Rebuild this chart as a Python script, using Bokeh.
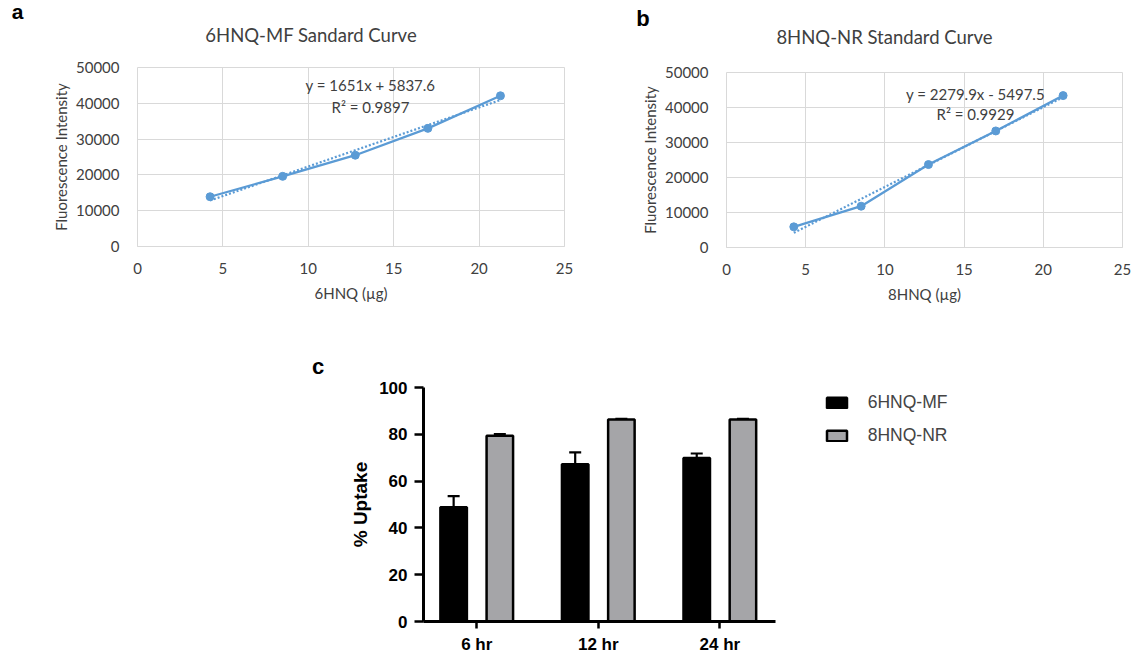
import numpy as np
from bokeh.plotting import figure
from bokeh.models import (Range1d, Whisker, ColumnDataSource, FixedTicker,
                          Legend, LegendItem, TeeHead, Label, Spacer)
from bokeh.layouts import column, row
from bokeh.transform import dodge
from bokeh.embed import file_html
from bokeh.resources import INLINE

# ---------------- data ----------------
mf_dose = [4.25, 8.5, 12.75, 17.0, 21.25]
mf_fluor = [13900, 19600, 25500, 33000, 42100]
mf_slope, mf_icpt, mf_r2 = 1651.0, 5837.6, 0.9897

nr_dose = [4.25, 8.5, 12.75, 17.0, 21.25]
nr_fluor = [5900, 11800, 23700, 33300, 43400]
nr_slope, nr_icpt, nr_r2 = 2279.9, -5497.5, 0.9929

x_ticks_std = [0, 5, 10, 15, 20, 25]
y_ticks_std = [0, 10000, 20000, 30000, 40000, 50000]

times = ["6 hr", "12 hr", "24 hr"]
uptake_mf = [48.8, 67.2, 69.9]
uptake_mf_err = [4.8, 5.1, 1.9]
uptake_nr = [79.4, 86.3, 86.3]
uptake_nr_err = [0.7, 0.3, 0.3]
y_ticks_uptake = [0, 20, 40, 60, 80, 100]

BLUE = "#5b9bd5"
GRID = "#d9d9d9"
TXT = "#404040"
FONT = "Lato"
ARIAL = "Liberation Sans"


def fmt_eq(m, b):
    sign = "+" if b >= 0 else "-"
    return f"y = {m:g}x {sign} {abs(b):g}"


def top_label(p, text, x, y, font, size, style, color):
    p.add_layout(Label(x=x, y=y, x_units="screen", y_units="screen", text=text,
                       text_align="center", text_baseline="alphabetic",
                       text_font=font, text_font_size=size, text_font_style=style,
                       text_color=color), "above")


def std_curve(dose, fluor, slope, icpt, r2, title, xlabel, letter,
              W, H, borders, title_pos, letter_pos, eq_pos, letter_size="22px"):
    L, R, T, B = borders
    p = figure(width=W, height=H, output_backend="svg", toolbar_location=None,
               x_range=Range1d(0, 25), y_range=Range1d(0, 50000),
               min_border_left=L, min_border_right=R,
               min_border_top=T, min_border_bottom=B)
    p.outline_line_color = GRID
    p.xgrid.grid_line_color = GRID
    p.ygrid.grid_line_color = GRID
    p.xaxis.ticker = FixedTicker(ticks=x_ticks_std)
    p.yaxis.ticker = FixedTicker(ticks=y_ticks_std)
    for ax in (p.xaxis[0], p.yaxis[0]):
        ax.major_tick_line_color = None
        ax.minor_tick_line_color = None
        ax.major_tick_out = 0
        ax.major_tick_in = 0
        ax.major_label_text_font = FONT
        ax.major_label_text_font_size = "15px"
        ax.major_label_text_color = TXT
        ax.axis_label_text_font = FONT
        ax.axis_label_text_font_size = "15px"
        ax.axis_label_text_font_style = "normal"
        ax.axis_label_text_color = TXT
    p.xaxis.axis_line_color = GRID
    p.yaxis.axis_line_color = None
    p.yaxis.major_label_standoff = 18
    p.yaxis.axis_label_standoff = 3
    p.xaxis.major_label_standoff = 16
    p.xaxis.axis_label_standoff = 7
    p.xaxis.axis_label = xlabel
    p.yaxis.axis_label = "Fluorescence Intensity"

    src = ColumnDataSource(dict(x=dose, y=fluor))
    p.line("x", "y", source=src, line_color=BLUE, line_width=2.3)
    xs = np.array([min(dose), max(dose)])
    p.line(xs, slope * xs + icpt, line_color=BLUE, line_width=2.2,
           line_dash="2 2")
    p.scatter("x", "y", source=src, size=8, fill_color=BLUE, line_color=BLUE)

    # trendline equation inside the plot area
    p.add_layout(Label(x=eq_pos[0], y=eq_pos[1], x_units="screen", y_units="screen",
                       text=fmt_eq(slope, icpt), text_align="center", text_baseline="middle",
                       text_font=FONT, text_font_size="15px", text_color=TXT))
    p.add_layout(Label(x=eq_pos[0], y=eq_pos[2], x_units="screen", y_units="screen",
                       text=f"R\u00b2 = {r2:.4f}", text_align="center", text_baseline="middle",
                       text_font=FONT, text_font_size="15px", text_color=TXT))

    # chart title (inner) and panel letter (outer) above the plot area
    top_label(p, title, title_pos[0], title_pos[1], FONT, "18.5px", "normal", TXT)
    top_label(p, letter, letter_pos[0], letter_pos[1], ARIAL, letter_size, "bold", "black")
    return p


pa = std_curve(mf_dose, mf_fluor, mf_slope, mf_icpt, mf_r2,
               "6HNQ-MF Sandard Curve", "6HNQ (\u00b5g)", "a",
               575, 330, (137, 11, 67, 84),
               (173.7, 32.5), (-120, 34.0), (233, 161.5, 139.3), letter_size="21px")
pb = std_curve(nr_dose, nr_fluor, nr_slope, nr_icpt, nr_r2,
               "8HNQ-NR Standard Curve", "8HNQ (\u00b5g)", "b",
               559, 326, (151, 12, 68, 83),
               (158, 35.7), (-83.5, 32.5), (249, 153.7, 133.7))

# ---------------- panel c ----------------
X0, X1 = 0.562, 3.458          # extent of the drawn x axis
C_LEFT, C_AXIS_RIGHT, C_RIGHT = 423, 775, 10
px_per_unit = (C_AXIS_RIGHT - C_LEFT) / (X1 - X0)
x_end = X0 + (1134 - C_RIGHT - C_LEFT) / px_per_unit

pc = figure(width=1134, height=326, output_backend="svg", toolbar_location=None,
            x_range=Range1d(X0, x_end), y_range=Range1d(0, 100),
            min_border_left=C_LEFT, min_border_right=C_RIGHT,
            min_border_top=57, min_border_bottom=34)
pc.outline_line_color = None
pc.grid.grid_line_color = None

idx = list(range(1, len(times) + 1))
csrc = ColumnDataSource(dict(
    x=idx,
    mf=uptake_mf, mf_up=[v + e for v, e in zip(uptake_mf, uptake_mf_err)],
    nr=uptake_nr, nr_up=[v + e for v, e in zip(uptake_nr, uptake_nr_err)],
))
OFF = 0.19
BW = 0.218
r_mf = pc.vbar(x=dodge("x", -OFF), top="mf", width=BW, source=csrc,
               fill_color="black", line_color="black", line_width=2.5)
r_nr = pc.vbar(x=dodge("x", OFF), top="nr", width=BW, source=csrc,
               fill_color="#a5a5a8", line_color="black", line_width=2.5)
for off, lo, up in ((-OFF, "mf", "mf_up"), (OFF, "nr", "nr_up")):
    pc.add_layout(Whisker(base=dodge("x", off), lower=lo, upper=up, source=csrc,
                          line_width=2.2, line_color="black", lower_head=None,
                          upper_head=TeeHead(size=12, line_width=2.2, line_color="black")))

pc.xaxis.ticker = FixedTicker(ticks=idx)
pc.xaxis.major_label_overrides = {i: t for i, t in zip(idx, times)}
pc.xaxis.bounds = (X0, X1)
pc.yaxis.ticker = FixedTicker(ticks=y_ticks_uptake)
for ax in (pc.xaxis[0], pc.yaxis[0]):
    ax.axis_line_width = 3
    ax.axis_line_color = "black"
    ax.major_tick_line_width = 2.5
    ax.major_tick_line_color = "black"
    ax.minor_tick_line_color = None
    ax.major_tick_in = 0
    ax.major_label_text_font = ARIAL
    ax.major_label_text_font_style = "bold"
    ax.major_label_text_font_size = "17px"
    ax.major_label_text_color = "black"
pc.yaxis.major_tick_out = 9
pc.xaxis.major_tick_out = 7
pc.yaxis.major_label_standoff = 7
pc.xaxis.major_label_standoff = 6
pc.yaxis.axis_label = "% Uptake"
pc.yaxis.axis_label_text_font = ARIAL
pc.yaxis.axis_label_text_font_style = "bold"
pc.yaxis.axis_label_text_font_size = "19px"
pc.yaxis.axis_label_text_color = "black"
pc.yaxis.axis_label_standoff = 5

top_label(pc, "c", -105.5, 21, ARIAL, "22px", "bold", "black")

legend = Legend(items=[LegendItem(label="6HNQ-MF", renderers=[r_mf]),
                       LegendItem(label="8HNQ-NR", renderers=[r_nr])],
                location=(400.7, 175), orientation="vertical",
                glyph_width=25, glyph_height=13, label_height=13,
                label_standoff=19, spacing=12, padding=0, margin=0,
                label_text_font=ARIAL, label_text_font_size="17.5px",
                border_line_color=None, background_fill_alpha=0)
pc.add_layout(legend, "center")

layout = column(row(pa, column(Spacer(height=4, width=559), pb)), pc)
with open("out.html", "w") as f:
    f.write(file_html(layout, INLINE))
